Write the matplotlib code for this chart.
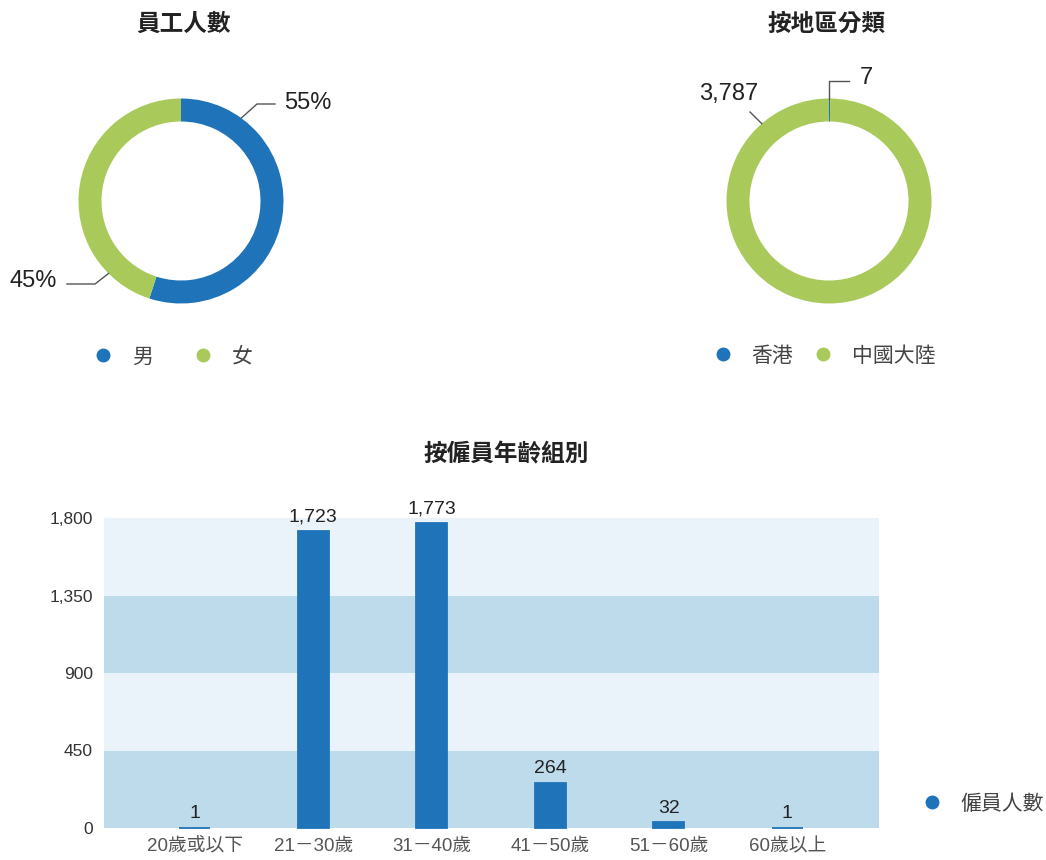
import matplotlib
matplotlib.use('Agg')  # no display
import matplotlib.pyplot as plt
from matplotlib.lines import Line2D
import numpy as np

plt.rcParams['font.family'] = ['Liberation Sans', 'Noto Sans CJK TC']

# --- data ---
gender_labels = ['男', '女']
gender_values = [55, 45]

region_labels = ['香港', '中國大陸']
region_values = [7, 3787]

age_groups = ['20歲或以下', '21－30歲', '31－40歲', '41－50歲', '51－60歲', '60歲以上']
age_counts = [1, 1723, 1773, 264, 32, 1]
age_ticks = [0, 450, 900, 1350, 1800]

BLUE = '#1f74b9'
GREEN = '#a9ca5b'
BAND_DARK = '#bedbec'
BAND_LIGHT = '#eaf3fa'
TEXT = '#222222'
LEADER = '#555555'

W, H = 1046, 860
fig = plt.figure(figsize=(W / 100, H / 100), dpi=100)


def fx(x):
    return x / W


def fy(y):
    return 1 - y / H


def donut(cx, cy, radius, values, half=150):
    ax = fig.add_axes([fx(cx - half), fy(cy + half), 2 * half / W, 2 * half / H])
    ax.pie(values, colors=[BLUE, GREEN], startangle=90, counterclock=False,
           radius=1, wedgeprops=dict(width=ring_width, linewidth=0))
    # pie() resets the limits, so set them afterwards
    lim = half / radius
    ax.set_xlim(-lim, lim)
    ax.set_ylim(-lim, lim)
    ax.axis('off')
    return ax


def to_data(px, py, cx, cy, radius):
    return (px - cx) / radius, (cy - py) / radius


def ring_point(angle_deg):
    a = np.deg2rad(angle_deg)
    return np.cos(a), np.sin(a)


def add_legend(labels, colors, x_handle_start, y_center, colspacing):
    handles = [Line2D([], [], marker='o', linestyle='', markersize=9, color=c) for c in colors]
    fig.legend(handles, labels, loc='center left',
               bbox_to_anchor=(fx(x_handle_start), fy(y_center)),
               bbox_transform=fig.transFigure, ncol=len(labels), frameon=False,
               borderaxespad=0, borderpad=0, handlelength=1.0, handletextpad=0.88,
               columnspacing=colspacing, prop={'size': 15}, labelcolor='#444444')


R_OUT, R_IN = 102.5, 79.5
ring_width = (R_OUT - R_IN) / R_OUT

# --- donut 1: gender ---
cx1, cy1 = 181, 201
ax1 = donut(cx1, cy1, R_OUT, gender_values)
fig.text(fx(184), fy(24), '員工人數', ha='center', va='center', fontsize=17,
         fontweight='bold', color=TEXT)

p0 = ring_point(54)
k = to_data(257, 104, cx1, cy1, R_OUT)
e = to_data(275, 104, cx1, cy1, R_OUT)
ax1.plot([p0[0], k[0], e[0]], [p0[1], k[1], e[1]], color=LEADER, lw=1)
t = to_data(284, 103, cx1, cy1, R_OUT)
ax1.text(t[0], t[1], f'{gender_values[0]}%', ha='left', va='center', fontsize=17, color=TEXT)

p0 = ring_point(225)
k = to_data(95, 284, cx1, cy1, R_OUT)
e = to_data(67, 284, cx1, cy1, R_OUT)
ax1.plot([p0[0], k[0], e[0]], [p0[1], k[1], e[1]], color=LEADER, lw=1)
t = to_data(57, 281, cx1, cy1, R_OUT)
ax1.text(t[0], t[1], f'{gender_values[1]}%', ha='right', va='center', fontsize=17, color=TEXT)

add_legend(gender_labels, [BLUE, GREEN], 92.6, 357, 1.9)

# --- donut 2: region ---
cx2, cy2 = 829, 201
ax2 = donut(cx2, cy2, R_OUT, region_values)
fig.text(fx(827), fy(24), '按地區分類', ha='center', va='center', fontsize=17,
         fontweight='bold', color=TEXT)

p0 = ring_point(90)
k = to_data(829, 81, cx2, cy2, R_OUT)
e = to_data(849, 81, cx2, cy2, R_OUT)
ax2.plot([p0[0], k[0], e[0]], [p0[1], k[1], e[1]], color=LEADER, lw=1)
t = to_data(860, 78, cx2, cy2, R_OUT)
ax2.text(t[0], t[1], f'{region_values[0]:,}', ha='left', va='center', fontsize=17, color=TEXT)

p0 = ring_point(131)
k = to_data(750, 112, cx2, cy2, R_OUT)
ax2.plot([p0[0], k[0]], [p0[1], k[1]], color=LEADER, lw=1)
t = to_data(729, 94, cx2, cy2, R_OUT)
ax2.text(t[0], t[1], f'{region_values[1]:,}', ha='center', va='center', fontsize=17, color=TEXT)

add_legend(region_labels, [BLUE, GREEN], 712.3, 356, 0.92)

# --- bar chart: age groups ---
left, top, right, bottom = 104, 518, 879, 828
ax3 = fig.add_axes([fx(left), fy(bottom), (right - left) / W, (bottom - top) / H])
for i in range(len(age_ticks) - 1):
    ax3.axhspan(age_ticks[i], age_ticks[i + 1], color=BAND_DARK if i % 2 == 0 else BAND_LIGHT,
                lw=0, zorder=0)
x = np.arange(len(age_groups))
bars = ax3.bar(x, age_counts, width=0.26, color=BLUE, edgecolor=BLUE, lw=1.3,
               zorder=2, label='僱員人數', clip_on=False)
ax3.bar_label(bars, labels=[f'{v:,}' for v in age_counts], padding=4, fontsize=14, color=TEXT)
ax3.set_xlim(-0.765, 5.775)
ax3.set_ylim(age_ticks[0], age_ticks[-1])
ax3.set_yticks(age_ticks)
ax3.set_yticklabels([f'{v:,}' for v in age_ticks])
ax3.set_xticks(x)
ax3.set_xticklabels(age_groups)
ax3.tick_params(axis='y', length=0, pad=8, labelsize=12.5, labelcolor='#333333')
ax3.tick_params(axis='x', length=0, pad=7, labelsize=13.5, labelcolor='#555555')
for s in ax3.spines.values():
    s.set_visible(False)
fig.text(fx(506), fy(455), '按僱員年齡組別', ha='center', va='center', fontsize=17,
         fontweight='bold', color=TEXT)

add_legend(['僱員人數'], [BLUE], 921.3, 804, 1.0)

fig.savefig('out.png', dpi=100)
